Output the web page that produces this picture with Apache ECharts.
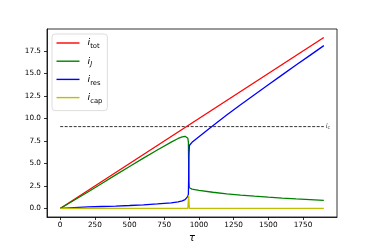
<!DOCTYPE html>
<html>
<head>
<meta charset="utf-8">
<script src="https://cdn.jsdelivr.net/npm/echarts@6/dist/echarts.min.js"></script>
<style>html,body{margin:0;padding:0;background:#fff}#c{width:374px;height:249px}</style>
</head>
<body>
<div id="c"></div>
<script>
// ---- data ----
const tau  = [0, 100, 200, 300, 400, 500, 600, 700, 800, 850, 880, 900, 912, 920, 924, 926, 928, 931, 935, 950, 1000, 1100, 1200, 1300, 1400, 1500, 1600, 1700, 1800, 1900];
const iRes = [0, 0.09, 0.17, 0.22, 0.27, 0.33, 0.40, 0.50, 0.62, 0.72, 0.84, 0.98, 1.15, 1.35, 1.6, 3.5, 6.0, 7.0, 7.15, 7.35, 7.98, 9.2, 10.38, 11.52, 12.64, 13.75, 14.85, 15.94, 17.02, 18.1];
const iJ   = [0, 0.91, 1.83, 2.78, 3.73, 4.67, 5.6, 6.5, 7.38, 7.78, 7.96, 8.02, 7.97, 7.8, 7.4, 5.0, 3.0, 2.3, 2.2, 2.15, 2.02, 1.8, 1.62, 1.48, 1.36, 1.25, 1.15, 1.06, 0.98, 0.9];
const iCap = [0, 0, 0, 0, 0, 0, 0, 0, 0, 0, 0, 0, 0, 0, 0, 1.45, 1.45, 0, 0, 0, 0, 0, 0, 0, 0, 0, 0, 0, 0, 0];
const totTau = [0, 1900];
const iTot   = [0, 19];
const icTau  = [0, 1900];
const icVal  = [9.1, 9.1];
const xTicks = [0, 250, 500, 750, 1000, 1250, 1500, 1750];
const yTicks = [0, 2.5, 5, 7.5, 10, 12.5, 15, 17.5];
const names  = ['i_tot', 'i_J', 'i_res', 'i_cap'];
const subs   = ['tot', 'J', 'res', 'cap'];

const pairs = (xs, ys) => xs.map((x, k) => [x, ys[k]]);
const font = 'DejaVu Sans';

const chart = echarts.init(document.getElementById('c'), null, {renderer: 'canvas'});
const lineSeries = (name, xs, ys, color) => ({
  name, type: 'line', data: pairs(xs, ys), showSymbol: false, symbol: 'none',
  lineStyle: {color, width: 1.3}, itemStyle: {color}, animation: false, z: 3
});
const axisLine = {show: true, onZero: false, lineStyle: {color: '#000', width: 0.8}};
chart.setOption({
  animation: false,
  textStyle: {fontFamily: font},
  grid: {left: 47, right: 37, top: 29, bottom: 32, show: true, borderColor: '#000', borderWidth: 0.8, backgroundColor: 'transparent'},
  xAxis: {
    type: 'value', min: -95, max: 1995,
    axisLine: axisLine,
    splitLine: {show: false},
    axisTick: {show: true, inside: false, length: 3, lineStyle: {color: '#000', width: 0.8}, customValues: xTicks},
    axisLabel: {customValues: xTicks, color: '#000', fontSize: 7.3, margin: 5, fontFamily: font,
      formatter: v => String(v)},
    name: 'τ', nameLocation: 'middle', nameGap: 15,
    nameTextStyle: {fontSize: 10, fontStyle: 'italic', color: '#000', fontFamily: font}
  },
  yAxis: {
    type: 'value', min: -0.95, max: 19.95,
    axisLine: axisLine,
    splitLine: {show: false},
    axisTick: {show: true, inside: false, length: 3, lineStyle: {color: '#000', width: 0.8}, customValues: yTicks},
    axisLabel: {customValues: yTicks, color: '#000', fontSize: 7.3, margin: 6, fontFamily: font,
      formatter: v => v.toFixed(1)}
  },
  legend: {
    data: names.map(n => ({name: n, icon: 'rect'})), orient: 'vertical', left: 52, top: 34,
    itemWidth: 23, itemHeight: 1.4, itemGap: 6.2,
    padding: [4, 5, 6, 4.5],
    backgroundColor: 'rgba(255,255,255,0.8)', borderColor: '#d4d4d4', borderWidth: 0.8, borderRadius: 3,
    formatter: n => '{i|i}{' + (n === 'i_J' ? 'sj' : 's') + '|' + subs[names.indexOf(n)] + '}',
    textStyle: {
      padding: [0, 0, 0, 3],
      rich: {
        i: {fontSize: 9.5, fontStyle: 'italic', fontFamily: font, color: '#000', lineHeight: 14, verticalAlign: 'middle'},
        s: {fontSize: 6.8, fontFamily: font, color: '#000', lineHeight: 14, verticalAlign: 'bottom'},
        sj: {fontSize: 6.8, fontStyle: 'italic', fontFamily: font, color: '#000', lineHeight: 14, verticalAlign: 'bottom'}
      }
    }
  },
  series: [
    lineSeries('i_tot', totTau, iTot, '#ff0000'),
    lineSeries('i_J', tau, iJ, '#008000'),
    lineSeries('i_res', tau, iRes, '#0000ff'),
    lineSeries('i_cap', tau, iCap, '#bfbf00'),
    {
      name: 'ic', type: 'line', data: pairs(icTau, icVal), showSymbol: false, symbol: 'none',
      lineStyle: {color: '#000', width: 0.8, type: [3, 1.5]}, z: 2,
      endLabel: {show: true, distance: 2, formatter: '{i|i}{s|c}',
        rich: {
          i: {fontSize: 6.5, fontStyle: 'italic', fontFamily: font, color: '#333', lineHeight: 8},
          s: {fontSize: 5, fontFamily: font, color: '#333', lineHeight: 8, verticalAlign: 'bottom'}
        }}
    }
  ]
});
</script>
</body>
</html>
